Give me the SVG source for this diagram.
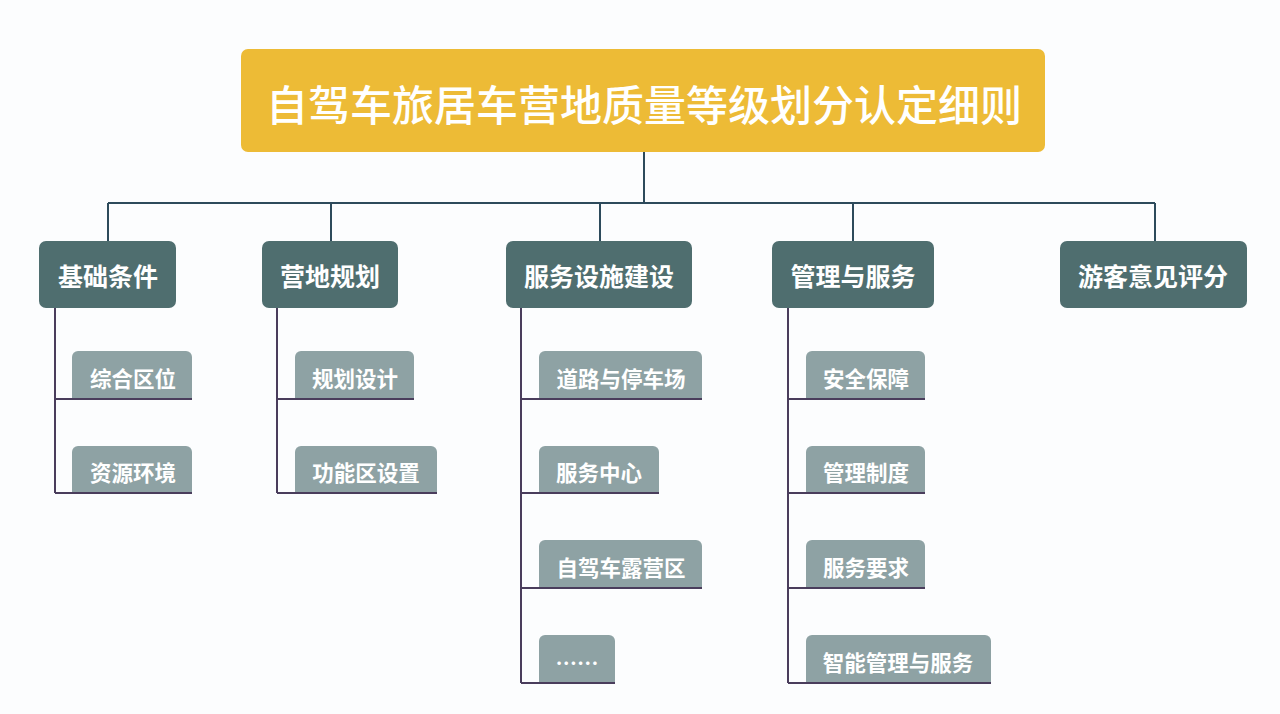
<svg xmlns="http://www.w3.org/2000/svg" width="1280" height="714" viewBox="0 0 1280 714">
<style>
text{font-family:"Noto Sans CJK SC","Noto Sans",sans-serif;fill:#ffffff;text-anchor:middle;dominant-baseline:central}
.title{font-size:42px;font-weight:500}
.p{font-size:25px;font-weight:700}
.c{font-size:21.5px;font-weight:700}
.pbox{fill:#4F6E6F}
.cbox{fill:#8EA2A4}
.bus{stroke:#2D4A5B;stroke-width:2;fill:none}
.br{stroke:#4A3D5C;stroke-width:2;fill:none}
</style>
<rect width="1280" height="714" fill="#FCFDFE"/>
<g id="connectors">
<path class="bus" d="M644 152V203M108 203H1155M108 203V241M331 203V241M600 203V241M853 203V241M1155 203V241"/>
<path class="br" d="M55 308V493M55 399H192M55 493H192"/>
<path class="br" d="M277 308V493M277 399H414M277 493H437"/>
<path class="br" d="M521 308V683M521 399H702M521 493H659M521 588H702M521 683H615"/>
<path class="br" d="M788 308V683M788 399H925M788 493H925M788 588H925M788 683H991"/>
</g>
<g id="title">
<rect x="241" y="49" width="804" height="103" rx="7" fill="#EDBB36"/>
<text class="title" x="644" y="102">自驾车旅居车营地质量等级划分认定细则</text>
</g>
<g id="n1"><rect class="pbox" x="39" y="241" width="137" height="67" rx="7"/><text class="p" x="108" y="275">基础条件</text></g>
<g id="n2"><rect class="pbox" x="262" y="241" width="136" height="67" rx="7"/><text class="p" x="330" y="275">营地规划</text></g>
<g id="n3"><rect class="pbox" x="506" y="241" width="186" height="67" rx="7"/><text class="p" x="599" y="275">服务设施建设</text></g>
<g id="n4"><rect class="pbox" x="772" y="241" width="162" height="67" rx="7"/><text class="p" x="853" y="275">管理与服务</text></g>
<g id="n5"><rect class="pbox" x="1060" y="241" width="187" height="67" rx="7"/><text class="p" x="1153" y="275">游客意见评分</text></g>
<g id="c1a"><path class="cbox" d="M72 398V357a6 6 0 0 1 6-6H186a6 6 0 0 1 6 6V398Z"/><text class="c" x="133" y="377">综合区位</text></g>
<g id="c1b"><path class="cbox" d="M72 492V452a6 6 0 0 1 6-6H186a6 6 0 0 1 6 6V492Z"/><text class="c" x="133" y="471">资源环境</text></g>
<g id="c2a"><path class="cbox" d="M295 398V357a6 6 0 0 1 6-6H408a6 6 0 0 1 6 6V398Z"/><text class="c" x="355" y="377">规划设计</text></g>
<g id="c2b"><path class="cbox" d="M295 492V452a6 6 0 0 1 6-6H431a6 6 0 0 1 6 6V492Z"/><text class="c" x="366" y="471">功能区设置</text></g>
<g id="c3a"><path class="cbox" d="M539 398V357a6 6 0 0 1 6-6H696a6 6 0 0 1 6 6V398Z"/><text class="c" x="621" y="377">道路与停车场</text></g>
<g id="c3b"><path class="cbox" d="M539 492V452a6 6 0 0 1 6-6H653a6 6 0 0 1 6 6V492Z"/><text class="c" x="599" y="471">服务中心</text></g>
<g id="c3c"><path class="cbox" d="M539 587V546a6 6 0 0 1 6-6H696a6 6 0 0 1 6 6V587Z"/><text class="c" x="621" y="566">自驾车露营区</text></g>
<g id="c3d"><path class="cbox" d="M539 682V641a6 6 0 0 1 6-6H609a6 6 0 0 1 6 6V682Z"/><text class="c" x="577" y="661">……</text></g>
<g id="c4a"><path class="cbox" d="M806 398V357a6 6 0 0 1 6-6H919a6 6 0 0 1 6 6V398Z"/><text class="c" x="866" y="377">安全保障</text></g>
<g id="c4b"><path class="cbox" d="M806 492V452a6 6 0 0 1 6-6H919a6 6 0 0 1 6 6V492Z"/><text class="c" x="866" y="471">管理制度</text></g>
<g id="c4c"><path class="cbox" d="M806 587V546a6 6 0 0 1 6-6H919a6 6 0 0 1 6 6V587Z"/><text class="c" x="866" y="566">服务要求</text></g>
<g id="c4d"><path class="cbox" d="M806 682V641a6 6 0 0 1 6-6H985a6 6 0 0 1 6 6V682Z"/><text class="c" x="898" y="661">智能管理与服务</text></g>
</svg>
